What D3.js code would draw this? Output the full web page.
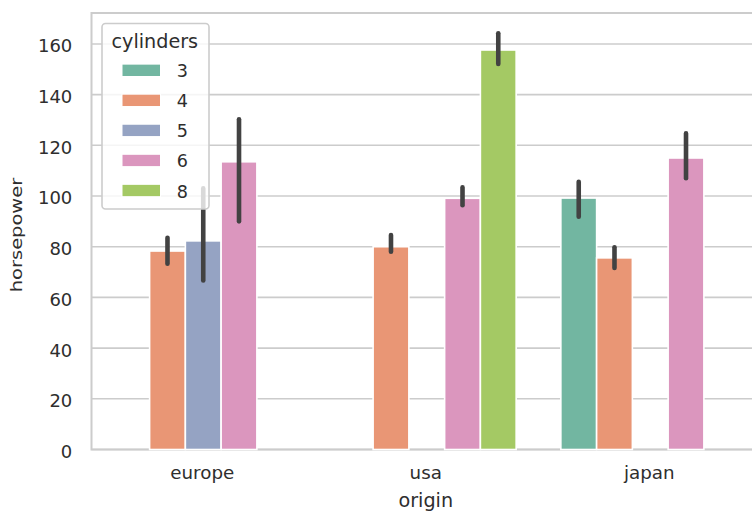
<!DOCTYPE html>
<html>
<head>
<meta charset="utf-8">
<script src="https://cdn.jsdelivr.net/npm/d3@7"></script>
<style>
  html, body { margin: 0; padding: 0; background: #fff; }
  svg { display: block; font-family: "DejaVu Sans", sans-serif; }
</style>
</head>
<body>
<svg id="chart" width="752" height="511"></svg>
<script>
// ---- data ----
const origins = ["europe", "usa", "japan"];
const cylinders = ["3", "4", "5", "6", "8"];
const colors = ["#72b6a1", "#e99675", "#95a3c3", "#db96be", "#a4c964"];
// mean horsepower, per origin, per cylinder (null = no bar)
const europeHp = [null, 78.3, 82.3, 113.5, null];
const usaHp    = [null, 80.0, null, 99.1, 157.6];
const japanHp  = [99.2, 75.6, null, 115.0, null];
// 95% CI low / high
const europeLo = [null, 73.3, 66.7, 90.0, null];
const europeHi = [null, 83.5, 103.0, 130.3, null];
const usaLo    = [null, 78.0, null, 96.4, 152.1];
const usaHi    = [null, 84.6, null, 103.4, 164.2];
const japanLo  = [91.8, 71.6, null, 107.0, null];
const japanHi  = [105.6, 79.8, null, 124.7, null];
const yTicks = [0, 20, 40, 60, 80, 100, 120, 140, 160];

(function () {
const series = [
  { origin: "europe", hp: europeHp, lo: europeLo, hi: europeHi },
  { origin: "usa",    hp: usaHp,    lo: usaLo,    hi: usaHi },
  { origin: "japan",  hp: japanHp,  lo: japanLo,  hi: japanHi }
];
const rows = [];
series.forEach(s => cylinders.forEach((c, i) => {
  if (s.hp[i] != null) rows.push({ origin: s.origin, cyl: c, ci: i, v: s.hp[i], lo: s.lo[i], hi: s.hi[i] });
}));

// ---- layout ----
const L = 91.5, R = 762, T = 13, B = 449.5;
const svg = d3.select("#chart");
const x = d3.scaleBand().domain(origins).range([L, R]).padding(0);
const xh = d3.scaleBand().domain(cylinders).range([x.bandwidth() * 0.1, x.bandwidth() * 0.9]).padding(0);
const y = d3.scaleLinear().domain([0, 172.2]).range([B, T]);
const color = d3.scaleOrdinal().domain(cylinders).range(colors);
const textColor = "#2e2e2e", gridColor = "#cccccc";

// grid
svg.append("g").selectAll("line").data(yTicks).join("line")
  .attr("x1", L).attr("x2", R)
  .attr("y1", d => y(d)).attr("y2", d => y(d))
  .attr("stroke", gridColor).attr("stroke-width", 1.6);

// spines
svg.append("rect").attr("x", L).attr("y", T)
  .attr("width", R - L).attr("height", B - T)
  .attr("fill", "none").attr("stroke", gridColor).attr("stroke-width", 2);

// bars
svg.append("g").selectAll("rect").data(rows).join("rect")
  .attr("x", d => x(d.origin) + xh(d.cyl))
  .attr("width", xh.bandwidth())
  .attr("y", d => y(d.v))
  .attr("height", d => y(0) - y(d.v))
  .attr("fill", d => color(d.cyl))
  .attr("stroke", "#ffffff").attr("stroke-width", 1.6);

// error bars
svg.append("g").selectAll("line").data(rows).join("line")
  .attr("x1", d => x(d.origin) + xh(d.cyl) + xh.bandwidth() / 2)
  .attr("x2", d => x(d.origin) + xh(d.cyl) + xh.bandwidth() / 2)
  .attr("y1", d => y(d.lo)).attr("y2", d => y(d.hi))
  .attr("stroke", "#424242").attr("stroke-width", 4.6).attr("stroke-linecap", "round");

// y tick labels
svg.append("g").selectAll("text").data(yTicks).join("text")
  .attr("x", 72.3).attr("y", d => y(d) + 8.4)
  .attr("text-anchor", "end").attr("font-size", 18).attr("fill", textColor)
  .text(d => d);

// x tick labels
svg.append("g").selectAll("text").data(origins).join("text")
  .attr("x", d => x(d) + x.bandwidth() / 2 - 1).attr("y", 479)
  .attr("text-anchor", "middle").attr("font-size", 18.3).attr("fill", textColor)
  .text(d => d);

// axis labels
svg.append("text").attr("x", (L + R) / 2 - 1).attr("y", 506.5)
  .attr("text-anchor", "middle").attr("font-size", 19.2).attr("fill", textColor)
  .text("origin");
svg.append("text").attr("transform", `translate(22.1,235) rotate(-90) scale(1.18,1)`)
  .attr("text-anchor", "middle").attr("font-size", 16.5).attr("fill", textColor)
  .text("horsepower");

// legend
const lg = svg.append("g");
lg.append("rect").attr("x", 102).attr("y", 23.5).attr("width", 107).attr("height", 185.5)
  .attr("rx", 3.5).attr("fill", "#ffffff").attr("fill-opacity", 0.8)
  .attr("stroke", gridColor).attr("stroke-width", 1.6);
lg.append("text").attr("x", 154.8).attr("y", 47.5).attr("text-anchor", "middle")
  .attr("font-size", 19.2).attr("fill", textColor).text("cylinders");
const li = lg.selectAll("g.item").data(cylinders).join("g").attr("class", "item")
  .attr("transform", (d, i) => `translate(0,${70.3 + i * 30.05})`);
li.append("rect").attr("x", 122).attr("y", -6.2).attr("width", 38.5).attr("height", 12.4)
  .attr("fill", d => color(d)).attr("stroke", "#ffffff").attr("stroke-width", 1);
li.append("text").attr("x", 176.7).attr("y", 7).attr("font-size", 17.6)
  .attr("fill", textColor).text(d => d);
})();
</script>
</body>
</html>
